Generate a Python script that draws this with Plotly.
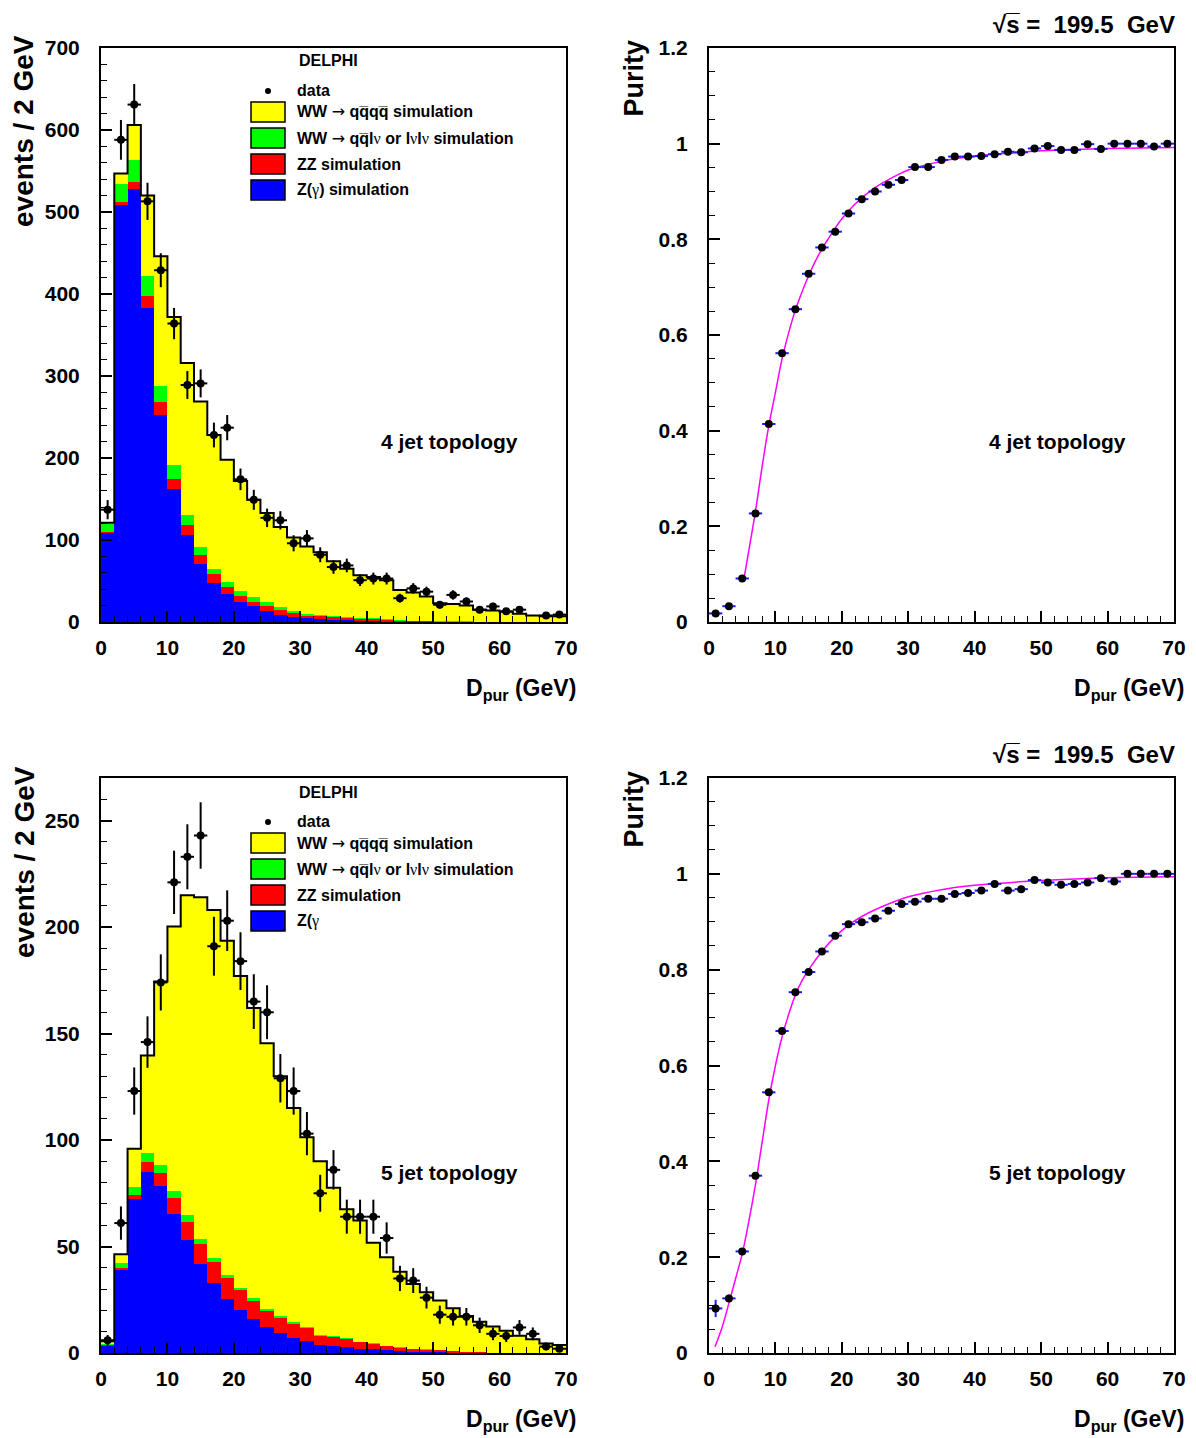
import numpy as np
import plotly.graph_objects as go

W, H = 1196, 1438
FONT = "Liberation Sans, Arial, sans-serif"

# ---------------- data ----------------
bin_edges = list(range(0, 72, 2))
bin_centers = [e + 1 for e in range(0, 70, 2)]

# 4 jet topology: stacked simulation components (events / 2 GeV)
zgamma_4j = [109, 508, 528, 383, 252, 162, 106, 71, 48, 34, 25, 19, 13, 8, 6, 5, 4, 3, 2.5, 1.5,
             1, 0.8, 0.5, 0.4, 0.3, 0.2, 0.2, 0.1, 0.1, 0, 0, 0, 0, 0, 0]
zz_4j = [1, 4, 9, 14, 16, 13, 12, 11, 10, 9, 7, 6, 7, 7, 5, 3.5, 3.5, 3.5, 3, 2.5,
         3, 2.2, 1.5, 1.2, 1, 0.8, 0.6, 0.5, 0.4, 0.3, 0.3, 0.2, 0.2, 0.1, 0.1]
wwlep_4j = [10, 22, 26, 25, 20, 16, 12, 10, 7, 6, 6, 5, 4, 3, 2, 1.5, 1, 1, 0.5, 0.5,
            0.5, 0.3, 0.2, 0.2, 0.1, 0.1, 0.1, 0.1, 0, 0, 0, 0, 0, 0, 0]
wwqqqq_4j = [1, 13, 43, 98, 158, 181, 186, 177, 163, 149, 134, 119, 109, 98, 90, 82, 76.5, 66.5, 59, 52.5,
             50.5, 47.7, 36.8, 34.2, 29.6, 21.9, 21.1, 19.3, 14.5, 13.7, 12.3, 9.8, 7.8, 6.9, 6.9]
data_4j = [137, 588, 631, 513, 429, 364, 289, 291, 228, 237, 174, 149, 127, 124, 96, 102, 82, 67, 69, 51,
           53, 53, 29, 41, 37, 21, 33, 25, 15, 19, 13, 15, None, 8, 9]

# 5 jet topology
zgamma_5j = [3.5, 39.3, 72.4, 85.2, 78.4, 65.3, 53.1, 41.7, 33.1, 25.3, 20, 15.8, 12.4, 9.2, 7.2, 5.8, 3.8, 3.3, 2.7, 2,
             1.7, 1.3, 0.9, 0.6, 0.4, 0.3, 0.2, 0.1, 0.1, 0, 0, 0, 0, 0, 0]
zz_5j = [0.3, 0.8, 1.9, 4.4, 6.1, 7.6, 8.6, 9.5, 9.7, 10.3, 9.6, 8.8, 7.6, 7.4, 6.8, 6.1, 4.5, 4.4, 4.0, 3.2,
         2.7, 2.0, 1.7, 1.3, 1.2, 1.0, 0.7, 0.5, 0.3, 0.2, 0.2, 0.1, 0.1, 0, 0]
wwlep_5j = [0.8, 2, 3.6, 4.2, 3.7, 3.2, 3, 2.2, 2, 0.9, 0.8, 1.1, 0.7, 0.6, 0.4, 0.5, 0.2, 0.2, 0.2, 0.1,
            0.1, 0.1, 0.1, 0.1, 0.1, 0, 0, 0, 0, 0, 0, 0, 0, 0, 0]
wwqqqq_5j = [0.9, 4.3, 18, 45.9, 86.3, 124.2, 150.3, 160.6, 163.2, 157.1, 146.6, 136.3, 124.8, 112.8, 100.6, 88.9, 81.5, 69.7, 60.6, 56.9,
             47.3, 41.6, 35.5, 30.4, 26.8, 23.3, 20.1, 16.8, 14.3, 12.2, 10.3, 8.0, 6.3, 4.5, 3.8]
data_5j = [6, 61, 123, 146, 174, 221, 233, 243, 191, 203, 184, 165, 160, 129, 123, 103, 75, 86, 64, 64,
           64, 54, 35, 34, 26, 18, 17, 17, 13, 9, 8, 12, 9, 3, 2]

# purity
purity_4j = [0.018, 0.033, 0.091, 0.227, 0.414, 0.562, 0.654, 0.728, 0.783, 0.816, 0.854, 0.884, 0.900, 0.914, 0.924,
             0.951, 0.951, 0.966, 0.973, 0.973, 0.974, 0.978, 0.983, 0.982, 0.990, 0.995, 0.987, 0.987, 0.999, 0.989,
             1.0, 1.0, 1.0, 0.994, 1.0]
purity_4j_err = [0.004, 0.004, 0.005, 0.006, 0.006, 0.005, 0.004, 0.004, 0.003, 0.003] + [0.002] * 25
purity_5j = [0.093, 0.114, 0.212, 0.370, 0.544, 0.672, 0.753, 0.795, 0.838, 0.871, 0.895, 0.899, 0.907, 0.923, 0.937,
             0.942, 0.948, 0.948, 0.958, 0.960, 0.965, 0.979, 0.965, 0.968, 0.987, 0.982, 0.977, 0.979, 0.982, 0.991,
             0.984, 1.0, 1.0, 1.0, 1.0]
purity_5j_err = [0.018, 0.008, 0.007, 0.007, 0.006, 0.005, 0.004, 0.004, 0.003, 0.003] + [0.002] * 25

fit_4j_x = [5.2, 6, 7, 8, 9, 10, 11, 12, 13, 14, 15, 16, 17, 18, 20, 22, 25, 28, 30, 35, 40, 45, 50, 55, 60, 65, 70]
fit_4j_y = [0.085, 0.15, 0.232, 0.325, 0.41, 0.48, 0.55, 0.605, 0.652, 0.69, 0.724, 0.754, 0.78, 0.802, 0.843, 0.874,
            0.908, 0.932, 0.945, 0.963, 0.974, 0.980, 0.985, 0.988, 0.990, 0.991, 0.992]
fit_5j_x = [0.9, 2, 3, 4, 5, 6, 7, 8, 9, 10, 11, 12, 13, 14, 15, 17, 19, 21, 23, 25, 30, 35, 40, 50, 60, 70]
fit_5j_y = [0.013, 0.055, 0.104, 0.155, 0.207, 0.275, 0.352, 0.44, 0.528, 0.60, 0.66, 0.707, 0.747, 0.777, 0.80, 0.838,
            0.869, 0.893, 0.911, 0.925, 0.952, 0.967, 0.976, 0.986, 0.992, 0.994]

y_ticks_4j = [0, 100, 200, 300, 400, 500, 600, 700]
y_ticks_5j = [0, 50, 100, 150, 200, 250]
x_ticks = [0, 10, 20, 30, 40, 50, 60, 70]
pur_ticks = [0, 0.2, 0.4, 0.6, 0.8, 1.0, 1.2]
pur_labels = ["0", "0.2", "0.4", "0.6", "0.8", "1", "1.2"]

YELLOW, GREEN, RED, BLUE = "#ffff00", "#00ff00", "#ff0000", "#0000ff"

# ---------------- layout helpers ----------------
def px_x(p):
    return p / W

def px_y(p):
    return 1 - p / H

fig = go.Figure()


def add_hist(xa, ya, zg, zz, wl, wq, data):
    for vals, col in [(zg, BLUE), (zz, RED), (wl, GREEN), (wq, YELLOW)]:
        fig.add_trace(go.Bar(x=bin_centers, y=vals, width=2, marker=dict(color=col, line=dict(width=0)),
                             xaxis=xa, yaxis=ya, showlegend=False, hoverinfo="skip"))
    total = [a + b + c + d for a, b, c, d in zip(zg, zz, wl, wq)]
    fig.add_trace(go.Scatter(x=bin_edges, y=total + [total[-1]], mode="lines", line=dict(color="black", width=2, shape="hv"),
                             xaxis=xa, yaxis=ya, showlegend=False, hoverinfo="skip"))
    err = [np.sqrt(v) if v is not None else None for v in data]
    fig.add_trace(go.Scatter(x=bin_centers, y=data, mode="markers",
                             marker=dict(color="black", size=8),
                             error_y=dict(type="data", array=err, color="black", thickness=2, width=0),
                             error_x=dict(type="constant", value=1, color="black", thickness=2, width=0),
                             xaxis=xa, yaxis=ya, showlegend=False, hoverinfo="skip", cliponaxis=True))


def add_purity(xa, ya, pur, perr, fx, fy):
    fig.add_trace(go.Scatter(x=fx, y=fy, mode="lines", line=dict(color="#ff00ff", width=1.5, shape="spline"),
                             xaxis=xa, yaxis=ya, showlegend=False, hoverinfo="skip"))
    fig.add_trace(go.Scatter(x=bin_centers, y=pur, mode="markers",
                             marker=dict(color="black", size=8),
                             error_y=dict(type="data", array=perr, color="#1a1aff", thickness=2, width=0),
                             error_x=dict(type="constant", value=1, color="#1a1aff", thickness=2, width=0),
                             xaxis=xa, yaxis=ya, showlegend=False, hoverinfo="skip"))


add_hist("x", "y", zgamma_4j, zz_4j, wwlep_4j, wwqqqq_4j, data_4j)
add_purity("x2", "y2", purity_4j, purity_4j_err, fit_4j_x, fit_4j_y)
add_hist("x3", "y3", zgamma_5j, zz_5j, wwlep_5j, wwqqqq_5j, data_5j)
add_purity("x4", "y4", purity_5j, purity_5j_err, fit_5j_x, fit_5j_y)

tickfont = dict(family=FONT, size=21, color="black", weight="bold")

xdom_l = [px_x(101), px_x(566)]
xdom_r = [px_x(709), px_x(1174)]
ydom_t = [px_y(622), px_y(48)]
ydom_b = [px_y(1353), px_y(778)]


def xaxis(dom, anchor):
    return dict(domain=dom, anchor=anchor, range=[0, 70], tickvals=x_ticks, ticks="inside", ticklen=11,
                tickwidth=1.5, tickcolor="black", showline=True, linecolor="black", linewidth=2, mirror=True,
                showgrid=False, zeroline=False, tickfont=tickfont, ticklabelstandoff=6, automargin=False,
                minor=dict(dtick=2, tick0=0, ticks="inside", ticklen=6, tickwidth=1.2, tickcolor="black", showgrid=False))


def yaxis(dom, anchor, rng, vals, minor_dtick, labels=None):
    d = dict(domain=dom, anchor=anchor, range=rng, tickvals=vals, ticks="inside", ticklen=11,
             tickwidth=1.5, tickcolor="black", showline=True, linecolor="black", linewidth=2, mirror=True,
             showgrid=False, zeroline=False, tickfont=tickfont, ticklabelstandoff=15, automargin=False,
             minor=dict(dtick=minor_dtick, tick0=0, ticks="inside", ticklen=6, tickwidth=1.2, tickcolor="black", showgrid=False))
    if labels is not None:
        d["ticktext"] = labels
    return d


fig.update_layout(
    width=W, height=H, autosize=False,
    margin=dict(l=0, r=0, t=0, b=0, pad=0, autoexpand=False),
    paper_bgcolor="white", plot_bgcolor="white", barmode="stack", bargap=0,
    xaxis=xaxis(xdom_l, "y"), yaxis=yaxis(ydom_t, "x", [0, 700], y_ticks_4j, 20),
    xaxis2=xaxis(xdom_r, "y2"), yaxis2=yaxis(ydom_t, "x2", [0, 1.2], pur_ticks, 0.05, pur_labels),
    xaxis3=xaxis(xdom_l, "y3"), yaxis3=yaxis(ydom_b, "x3", [0, 270], y_ticks_5j, 10),
    xaxis4=xaxis(xdom_r, "y4"), yaxis4=yaxis(ydom_b, "x4", [0, 1.2], pur_ticks, 0.05, pur_labels),
    showlegend=False,
)

annotations = []
shapes = []


def ann(text, x, y, size, xanchor="left", yanchor="middle", angle=0):
    annotations.append(dict(text=text, x=px_x(x), y=px_y(y), xref="paper", yref="paper", showarrow=False,
                            xanchor=xanchor, yanchor=yanchor, textangle=angle, borderpad=0,
                            font=dict(family=FONT, size=size, color="black")))

SYM = '<span style="font-family:Liberation Serif;font-weight:normal">%s</span>'
ARROW = '<span style="font-family:DejaVu Sans;font-weight:normal">\u2192</span>'
NU = SYM % "\u03bd"
GAMMA = SYM % "\u03b3"

for dy in (0, 731):
    # axis titles
    ann("<b>events / 2 GeV</b>", 24, 34 + dy, 28, xanchor="center", yanchor="top", angle=-90)
    ann("<b>Purity</b>", 633, 39 + dy, 27, xanchor="center", yanchor="top", angle=-90)
    ann("<b>D<sub>pur</sub> (GeV)</b>", 577, 689 + dy, 23, xanchor="right")
    ann("<b>D<sub>pur</sub> (GeV)</b>", 1185, 689 + dy, 23, xanchor="right")
    ann("<b>\u221as\u0305 =\u00a0 199.5\u00a0 GeV</b>", 1176, 24 + dy, 24, xanchor="right")
    topo = "4 jet topology" if dy == 0 else "5 jet topology"
    ann("<b>%s</b>" % topo, 380, 441 + dy, 21)
    ann("<b>%s</b>" % topo, 988, 441 + dy, 21)
    # legend
    ann("<b>DELPHI</b>", 298, 61 + dy, 16)
    ann("<b>data</b>", 296, 90 + dy, 16)
    labels = ["<b>WW " + ARROW + " qq\u0305qq\u0305 simulation</b>",
              "<b>WW " + ARROW + " qq\u0305l" + NU + " or l" + NU + "l" + NU + " simulation</b>",
              "<b>ZZ simulation</b>",
              ("<b>Z(" + GAMMA + ") simulation</b>") if dy == 0 else ("<b>Z(" + GAMMA + "</b>")]
    cols = [YELLOW, GREEN, RED, BLUE]
    for i, (lab, col) in enumerate(zip(labels, cols)):
        yc = 112 + 26 * i + dy
        shapes.append(dict(type="rect", xref="paper", yref="paper", x0=px_x(251), x1=px_x(285),
                           y0=px_y(yc + 10), y1=px_y(yc - 10), fillcolor=col, line=dict(color="black", width=1.5)))
        ann(lab, 296, yc, 16)
    shapes.append(dict(type="circle", xref="paper", yref="paper", x0=px_x(265), x1=px_x(271),
                       y0=px_y(94 + dy), y1=px_y(88 + dy), fillcolor="black", line=dict(color="black", width=0)))

fig.update_layout(annotations=annotations, shapes=shapes)
fig.write_html("out.html", config={"responsive": False, "displayModeBar": False})
